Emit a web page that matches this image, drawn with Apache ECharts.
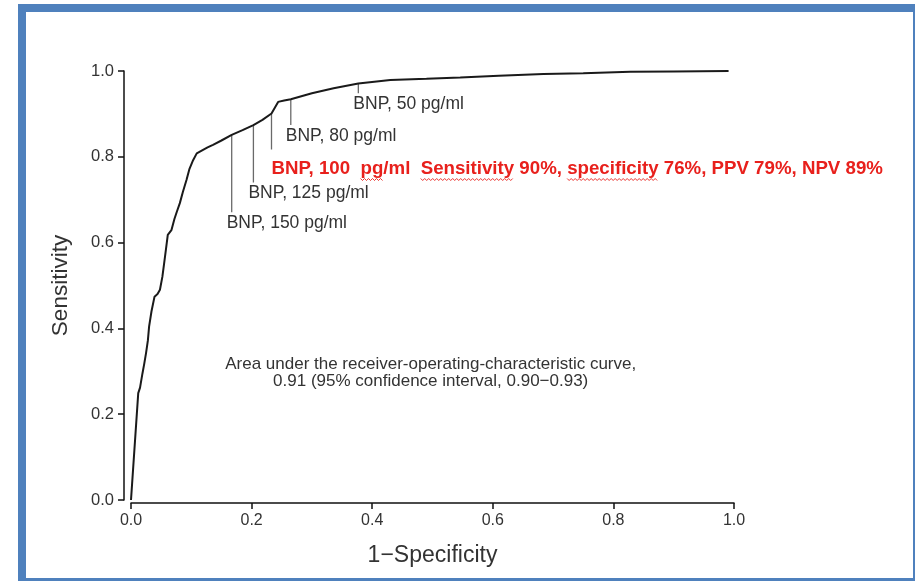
<!DOCTYPE html>
<html><head><meta charset="utf-8">
<script src="https://cdn.jsdelivr.net/npm/echarts@6/dist/echarts.min.js"></script>
<style>html,body{margin:0;padding:0;background:#fff}#c{width:915px;height:581px}</style>
</head><body><div id="c"></div>
<script>
// ROC curve (1-specificity, sensitivity)
const fpr = [0.000, 0.012, 0.015, 0.019, 0.022, 0.025, 0.028, 0.030, 0.034, 0.039, 0.044, 0.048, 0.052, 0.055, 0.058, 0.061, 0.064, 0.067, 0.072, 0.076, 0.081, 0.086, 0.092, 0.097, 0.103, 0.109, 0.118, 0.127, 0.136, 0.150, 0.167, 0.185, 0.203, 0.218, 0.233, 0.244, 0.254, 0.265, 0.300, 0.336, 0.377, 0.430, 0.490, 0.546, 0.610, 0.684, 0.750, 0.828, 0.900, 0.991];
const tpr = [0.000, 0.249, 0.262, 0.295, 0.318, 0.343, 0.372, 0.404, 0.440, 0.474, 0.480, 0.490, 0.520, 0.552, 0.585, 0.618, 0.622, 0.629, 0.655, 0.672, 0.692, 0.718, 0.746, 0.772, 0.792, 0.808, 0.815, 0.822, 0.828, 0.838, 0.851, 0.862, 0.874, 0.886, 0.901, 0.928, 0.931, 0.934, 0.948, 0.960, 0.971, 0.979, 0.982, 0.985, 0.989, 0.993, 0.995, 0.998, 0.999, 1.000];

const xTickValues = [0, 0.2, 0.4, 0.6, 0.8, 1.0];
const yTickValues = [0, 0.2, 0.4, 0.6, 0.8, 1.0];

// BNP cut-off markers
const cutoffNames  = ['BNP, 150 pg/ml', 'BNP, 125 pg/ml', 'BNP, 100 pg/ml', 'BNP, 80 pg/ml', 'BNP, 50 pg/ml'];
const cutoffFpr    = [0.167, 0.203, 0.233, 0.265, 0.377];
const cutoffTop    = [0.851, 0.874, 0.901, 0.934, 0.971];
const cutoffBottom = [0.671, 0.740, 0.817, 0.874, 0.948];
const highlightIndex = 2;
const highlightText = 'BNP, 100  pg/ml  Sensitivity 90%, specificity 76%, PPV 79%, NPV 89%';
const squiggleWords = ['pg', 'Sensitivity', 'specificity'];

const aucLines = ['Area under the receiver-operating-characteristic curve,', '0.91 (95% confidence interval, 0.90\u22120.93)'];
const aucAnchor = [0.497, 0.296];

const FONT = '"Liberation Sans", Arial, Helvetica, sans-serif';
const RED_FONT = 'bold 18.7px ' + FONT;
const chart = echarts.init(document.getElementById('c'), null, {renderer: 'canvas'});

const series = [{
  type: 'line', data: fpr.map((x, i) => [x, tpr[i]]), showSymbol: false, symbol: 'none',
  lineStyle: {color: '#1a1a1a', width: 2}, z: 4, animation: false
}];
cutoffFpr.forEach((x, i) => {
  series.push({
    type: 'line', data: [[x, cutoffTop[i]], [x, cutoffBottom[i]]], showSymbol: false, symbol: 'none',
    lineStyle: {color: '#6a6a6a', width: 1.3}, z: 3, animation: false
  });
});

chart.setOption({
  animation: false,
  backgroundColor: '#ffffff',
  grid: {left: 131, right: 181, top: 71, bottom: 81},
  xAxis: {
    type: 'value', min: 0, max: 1, interval: 0.2, offset: 3,
    axisLine: {show: true, onZero: false, lineStyle: {color: '#111', width: 1.5}},
    axisTick: {show: true, length: 6, lineStyle: {color: '#111', width: 1.5}},
    axisLabel: {formatter: v => xTickValues.some(t => Math.abs(t - v) < 1e-9) ? v.toFixed(1) : '', fontSize: 16, color: '#333', margin: 10, fontFamily: FONT},
    splitLine: {show: false},
    name: '1\u2212Specificity', nameLocation: 'middle', nameGap: 41,
    nameTextStyle: {fontSize: 23, color: '#333', fontFamily: FONT}
  },
  yAxis: {
    type: 'value', min: 0, max: 1, interval: 0.2, offset: 7,
    axisLine: {show: true, onZero: false, lineStyle: {color: '#111', width: 1.5}},
    axisTick: {show: true, length: 6, lineStyle: {color: '#111', width: 1.5}},
    axisLabel: {formatter: v => yTickValues.some(t => Math.abs(t - v) < 1e-9) ? v.toFixed(1) : '', fontSize: 16.5, color: '#333', margin: 10, fontFamily: FONT},
    splitLine: {show: false},
    name: 'Sensitivity', nameLocation: 'middle', nameGap: 52,
    nameTextStyle: {fontSize: 22.5, color: '#333', fontFamily: FONT}
  },
  series: series
});

const graphics = [];
// blue frame
graphics.push({type: 'rect', shape: {x: 18, y: 4, width: 897, height: 8}, style: {fill: '#4f81bd'}, silent: true});
graphics.push({type: 'rect', shape: {x: 18, y: 4, width: 8, height: 577}, style: {fill: '#4f81bd'}, silent: true});
graphics.push({type: 'rect', shape: {x: 18, y: 578, width: 897, height: 3}, style: {fill: '#4f81bd'}, silent: true});
graphics.push({type: 'rect', shape: {x: 913, y: 4, width: 2, height: 577}, style: {fill: '#4f81bd'}, silent: true});

const mctx = document.createElement('canvas').getContext('2d');
mctx.font = RED_FONT;

cutoffFpr.forEach((x, i) => {
  const p = chart.convertToPixel({gridIndex: 0}, [x, cutoffBottom[i]]);
  if (i === highlightIndex) {
    const tx = p[0], ty = p[1] + 19;
    graphics.push({type: 'text', x: tx, y: ty, style: {
      text: highlightText, fill: '#e8201c', font: RED_FONT, textAlign: 'left', textVerticalAlign: 'middle'}});
    // spell-check style wavy underlines
    squiggleWords.forEach(w => {
      const idx = highlightText.indexOf(w);
      const x0 = tx + mctx.measureText(highlightText.slice(0, idx)).width;
      const x1 = x0 + mctx.measureText(w).width;
      const pts = [];
      let up = true;
      for (let xx = x0; xx <= x1; xx += 2) { pts.push([xx, ty + 11 + (up ? -1 : 1)]); up = !up; }
      graphics.push({type: 'polyline', shape: {points: pts}, style: {stroke: '#e8201c', lineWidth: 0.9, fill: null}, silent: true});
    });
  } else {
    graphics.push({type: 'text', x: p[0] - 5, y: p[1] + 11, style: {
      text: cutoffNames[i], fill: '#333', font: '17.5px ' + FONT, textAlign: 'left', textVerticalAlign: 'middle'}});
  }
});

const a = chart.convertToPixel({gridIndex: 0}, aucAnchor);
graphics.push({type: 'text', x: a[0], y: a[1] - 8.5, style: {text: aucLines[0], fill: '#333', font: '17px ' + FONT, textAlign: 'center', textVerticalAlign: 'middle'}});
graphics.push({type: 'text', x: a[0], y: a[1] + 8.5, style: {text: aucLines[1], fill: '#333', font: '17px ' + FONT, textAlign: 'center', textVerticalAlign: 'middle'}});

chart.setOption({graphic: graphics});
</script></body></html>
